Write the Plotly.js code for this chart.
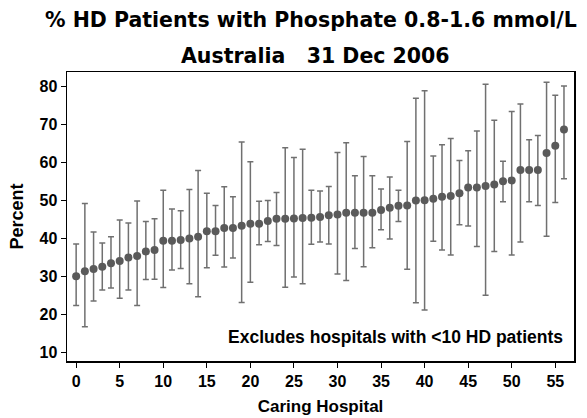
<!DOCTYPE html>
<html>
<head>
<meta charset="utf-8">
<script src="https://cdn.plot.ly/plotly-3.0.1.min.js"></script>
<style>
html,body{margin:0;padding:0;background:#fff;}
#chart{width:587px;height:418px;}
</style>
</head>
<body>
<div id="chart"></div>
<script>
// Hospital index (sorted by percent)
const hospitals = [0,1,2,3,4,5,6,7,8,9,10,11,12,13,14,15,16,17,18,19,20,21,22,23,24,25,26,27,28,29,30,31,32,33,34,35,36,37,38,39,40,41,42,43,44,45,46,47,48,49,50,51,52,53,54,55,56];
// Percent of HD patients with phosphate 0.8-1.6 mmol/L
const percent = [30.1,31.4,32.0,32.6,33.5,34.1,35.0,35.4,36.6,37.0,39.4,39.4,39.6,40.0,40.5,41.9,41.9,42.8,42.8,43.4,43.9,43.9,44.6,45.2,45.2,45.3,45.4,45.5,45.7,46.1,46.3,46.8,46.8,46.8,46.8,47.5,48.1,48.6,48.7,50.0,50.1,50.5,51.0,51.2,51.9,53.4,53.4,53.8,54.2,55.1,55.3,58.0,58.0,58.0,62.5,64.4,68.7];
// Upper and lower confidence limits
const upper = [38.6,49.2,41.7,38.8,40.5,44.9,44.1,49.9,44.5,45.2,52.7,47.8,47.3,52.9,57.9,51.9,48.7,53.6,51.0,65.4,60.2,49.8,50.0,52.1,63.9,61.3,63.5,52.7,52.5,53.7,62.6,65.2,56.5,61.6,56.5,53.0,56.2,52.7,65.5,76.9,78.9,61.7,64.7,66.3,60.5,63.1,68.3,80.6,71.1,60.3,73.4,75.4,66.0,67.1,81.1,77.7,80.1];
const lower = [22.4,16.8,23.6,26.5,27.0,24.3,26.5,22.4,29.2,29.3,27.1,31.7,32.1,28.1,24.7,32.3,35.6,32.5,34.9,23.2,28.5,38.4,39.2,38.2,27.2,29.9,28.1,38.5,39.1,38.6,30.7,29.0,37.4,32.6,37.6,42.3,39.9,44.5,31.9,23.1,21.2,39.3,37.0,35.7,43.6,43.3,37.9,25.1,36.6,49.7,35.7,39.1,49.7,48.7,40.6,49.5,55.7];
const xTicks = [0,5,10,15,20,25,30,35,40,45,50,55];
const yTicks = [10,20,30,40,50,60,70,80];

const trace = {
  x: hospitals,
  y: percent,
  type: 'scatter',
  mode: 'markers',
  marker: {color: '#5a5a5a', size: 8},
  error_y: {
    type: 'data',
    symmetric: false,
    array: upper.map((u, i) => u - percent[i]),
    arrayminus: lower.map((l, i) => percent[i] - l),
    color: '#707070',
    thickness: 1.5,
    width: 3
  },
  hoverinfo: 'x+y'
};

const sans = 'Liberation Sans, Arial, sans-serif';
const tickFont = {family: sans, size: 16, color: '#000', weight: 'bold'};

const layout = {
  width: 587,
  height: 418,
  margin: {l: 67, r: 13, t: 72, b: 57},
  paper_bgcolor: '#fff',
  plot_bgcolor: '#fff',
  showlegend: false,
  xaxis: {
    range: [-1.05, 57.15],
    tickvals: xTicks,
    ticktext: xTicks.map(String),
    ticks: 'outside',
    ticklen: 5,
    tickwidth: 1,
    tickcolor: '#000',
    showgrid: false,
    zeroline: false,
    showline: true,
    linecolor: '#000',
    linewidth: 1.5,
    mirror: true,
    tickfont: tickFont,
    title: {text: '<b>Caring Hospital</b>', font: {family: sans, size: 17, color: '#000'}, standoff: 11}
  },
  yaxis: {
    range: [7.8, 83.8],
    tickvals: yTicks,
    ticktext: yTicks.map(String),
    ticks: 'outside',
    ticklen: 5,
    tickwidth: 1,
    tickcolor: '#000',
    showgrid: false,
    zeroline: false,
    showline: true,
    linecolor: '#000',
    linewidth: 1.5,
    mirror: true,
    tickfont: tickFont,
    title: {text: '<b>Percent</b>', font: {family: sans, size: 18, color: '#000'}, standoff: 11}
  },
  annotations: [
    {
      text: '<b>% HD Patients with Phosphate 0.8-1.6 mmol/L</b>',
      xref: 'paper', yref: 'paper', x: 0.482, y: 1.0, yshift: 52,
      xanchor: 'center', yanchor: 'middle', showarrow: false,
      font: {family: 'DejaVu Sans, sans-serif', size: 20.5, color: '#000'}
    },
    {
      text: '<b>Australia&nbsp;&nbsp;&nbsp;31 Dec 2006</b>',
      xref: 'paper', yref: 'paper', x: 0.49, y: 1.0, yshift: 16,
      xanchor: 'center', yanchor: 'middle', showarrow: false,
      font: {family: 'DejaVu Sans, sans-serif', size: 20.5, color: '#000'}
    },
    {
      text: '<b>Excludes hospitals with &lt;10 HD patients</b>',
      xref: 'paper', yref: 'paper', x: 0.982, y: 0.0, yshift: 24,
      xanchor: 'right', yanchor: 'middle', showarrow: false,
      font: {family: sans, size: 17.5, color: '#000'}
    }
  ]
};

Plotly.newPlot('chart', [trace], layout, {staticPlot: true, displayModeBar: false});
</script>
</body>
</html>
